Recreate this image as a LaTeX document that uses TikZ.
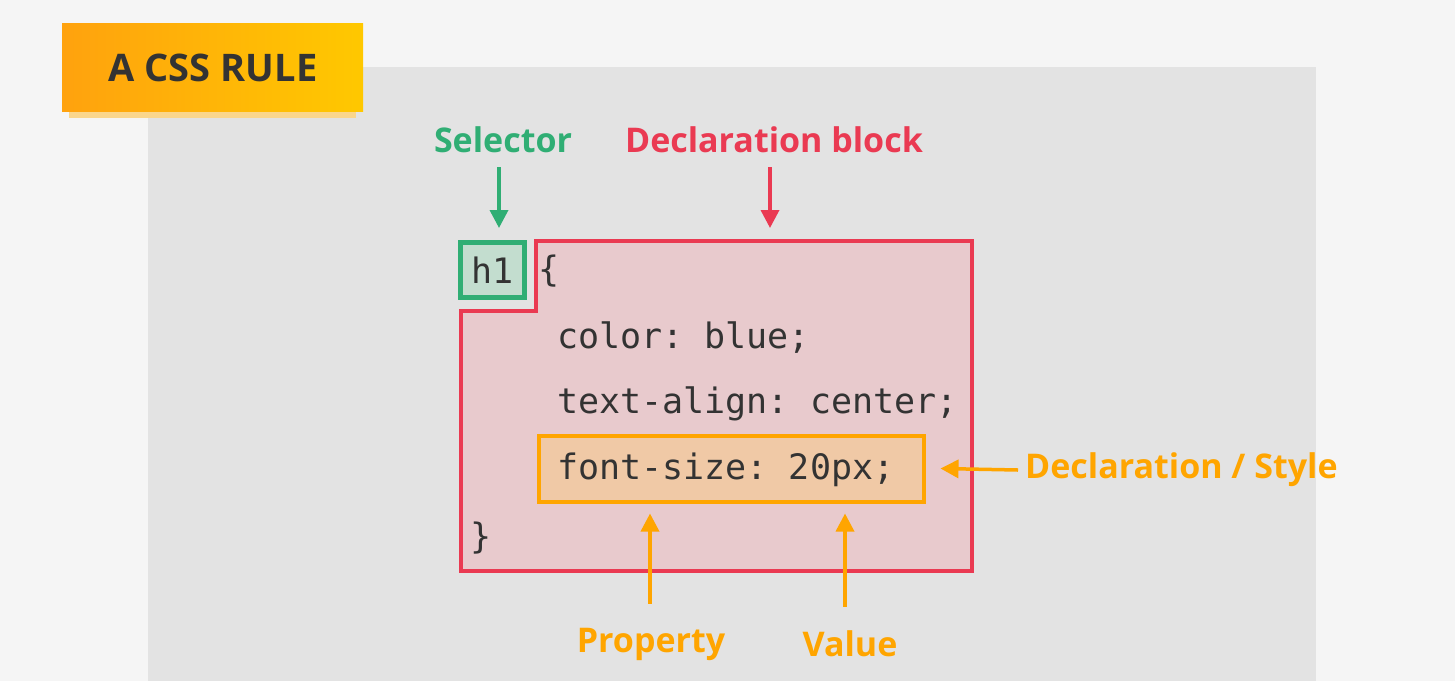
\documentclass[tikz,border=0pt]{standalone}
\usepackage{fontspec}
\setmainfont{Open Sans}
\setmonofont{DejaVu Sans Mono}
\usetikzlibrary{arrows.meta}

\definecolor{pagebg}{RGB}{245,245,245}
\definecolor{panelbg}{RGB}{227,227,227}
\definecolor{selgreen}{RGB}{48,174,116}
\definecolor{selfill}{RGB}{195,221,207}
\definecolor{blockred}{RGB}{234,58,82}
\definecolor{blockfill}{RGB}{232,202,205}
\definecolor{declorange}{RGB}{255,165,0}
\definecolor{declfill}{RGB}{240,201,166}
\definecolor{codegray}{RGB}{51,51,51}
\definecolor{titleleft}{RGB}{255,162,14}
\definecolor{titleright}{RGB}{255,200,0}
\definecolor{titleshadow}{RGB}{250,214,140}

\tikzset{
  label text/.style={font=\bfseries\fontsize{34}{40}\selectfont, inner sep=0pt},
  code text/.style={font=\ttfamily\fontsize{35}{40}\selectfont, text=codegray, inner sep=0pt, anchor=west},
  pointer/.style={line width=3.5pt, -{Triangle[width=18pt,length=18pt]}},
}

\begin{document}
\begin{tikzpicture}[x=1pt,y=-1pt]
        \useasboundingbox (0,0) rectangle (1455,681);
        %Shape: Rectangle [page]
        \fill [pagebg] (0,0) rectangle (1455,681);
        %Shape: Rectangle [panel]
        \fill [panelbg] (148,67) rectangle (1316,681);

        %Shape: Title shadow
        \fill [titleshadow] (69,110) rectangle (356,118);
        %Shape: Title box
        \shade [left color=titleleft, right color=titleright] (62,23) rectangle (363,111);
        % Text Node
        \node (title) [font=\bfseries\fontsize{38}{44}\selectfont, text=codegray, inner sep=0pt] at (213,68) {A CSS RULE};

        %Shape: Declaration block
        \draw [color=blockred, draw opacity=1, fill=blockfill][line width=4] (536,241) -- (972,241) -- (972,571) -- (461,571) -- (461,311) -- (536,311) -- cycle ;
        \coordinate (blockTop) at (770,241);

        %Shape: Selector box
        \node (h1) [draw=selgreen, fill=selfill, line width=5, minimum width=64, minimum height=55, code text, anchor=center] at (492.5,270) {h1};

        %Shape: Declaration box
        \node (decl) [draw=declorange, fill=declfill, line width=4, minimum width=385, minimum height=66] at (731,468.5) {};

        % Text Node
        \node (open) [code text] at (538,271) {\{};
        \node (color) [code text] at (557,338) {color: blue;};
        \node (align) [code text] at (557,404) {text-align: center;};
        \node (size) [code text] at (557,470) {font-size: 20px;};
        \node (close) [code text] at (470,538) {\}};

        % Text Node
        \node (sel) [label text, text=selgreen] at (503,140) {Selector};
        \node (block) [label text, text=blockred] at (774,140) {Declaration block};
        \node (style) [label text, text=declorange, anchor=west] at (1025,470) {Declaration / Style};
        \node (prop) [label text, text=declorange] at (651,644) {Property};
        \node (val) [label text, text=declorange] at (850,644) {Value};

        %Shape: Arrows
        \draw [pointer, selgreen] ([xshift=-4pt,yshift=-14pt]sel.south) -- ([xshift=6.5pt,yshift=12pt]h1.north);
        \draw [pointer, blockred] ([xshift=-4pt,yshift=-14pt]block.south) -- ([yshift=13pt]blockTop);
        \draw [pointer, declorange] ([xshift=-7pt]style.west) -- ([xshift=15pt]decl.east);
        \draw [pointer, declorange] ([xshift=-1pt,yshift=24pt]prop.north) -- ([xshift=-81pt,yshift=-10pt]decl.south);
        \draw [pointer, declorange] ([xshift=-5pt,yshift=24pt]val.north) -- ([xshift=114pt,yshift=-10pt]decl.south);
\end{tikzpicture}
\end{document}
